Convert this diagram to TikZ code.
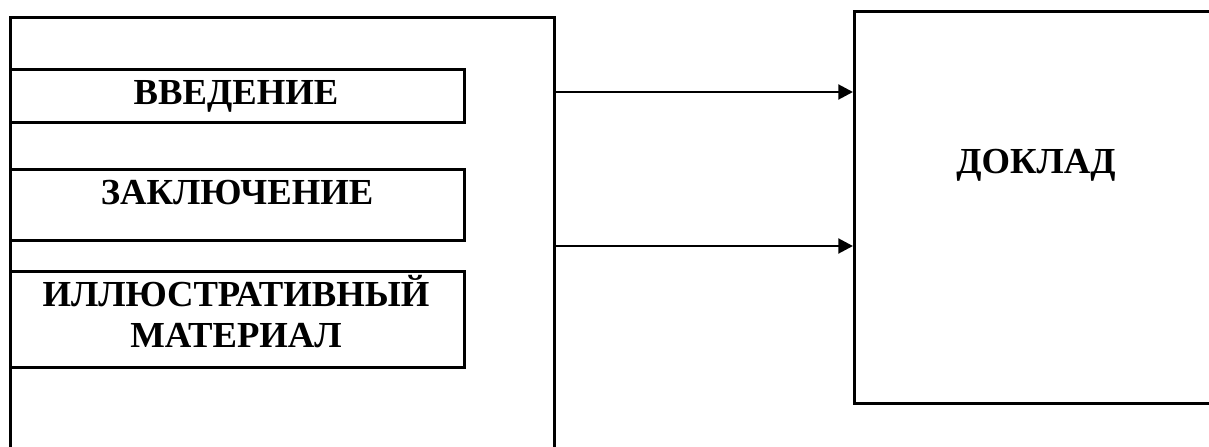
\documentclass[tikz,border=0pt]{standalone}
\usepackage{fontspec}
\setmainfont{Liberation Serif}
\usetikzlibrary{arrows.meta}
\begin{document}
\begin{tikzpicture}[x=0.75pt,y=-0.75pt,
  frame/.style={draw,line width=2.1pt,rectangle,inner sep=0pt,anchor=north west},
  lbl/.style={inner sep=0pt,font=\fontsize{27.5}{30.75}\selectfont\bfseries,align=center},
  caps/.style={text height=18.2pt,text depth=0pt},
  conn/.style={line width=2.2pt,-{Triangle[length=11pt,width=11pt]}}]
\useasboundingbox (0,0) rectangle (1209,446);
\clip (0,0) rectangle (1209,446);
\node[frame,minimum width=544*0.75pt,minimum height=470*0.75pt] (outer) at (9,16) {};
\node[frame,minimum width=454*0.75pt,minimum height=53*0.75pt] (b1) at (9,68) {};
\node[frame,minimum width=454*0.75pt,minimum height=71*0.75pt] (b2) at (9,168) {};
\node[frame,minimum width=454*0.75pt,minimum height=96*0.75pt] (b3) at (9,270) {};
\node[frame,minimum width=400*0.75pt,minimum height=392*0.75pt] (doklad) at (853,10) {};
\node[lbl,caps] (t1) at (236,92) {ВВЕДЕНИЕ};
\node[lbl,caps] (t2) at (237,192) {ЗАКЛЮЧЕНИЕ};
\node[lbl] (t3) at (236,312) {ИЛЛЮСТРАТИВНЫЙ\\МАТЕРИАЛ};
\node[lbl,caps] (t4) at (1036,161) {ДОКЛАД};
\coordinate (a1) at (700,92);
\coordinate (a2) at (700,246);
\draw[conn] (outer.east |- a1) -- (doklad.west |- a1);
\draw[conn] (outer.east |- a2) -- (doklad.west |- a2);
\end{tikzpicture}
\end{document}
